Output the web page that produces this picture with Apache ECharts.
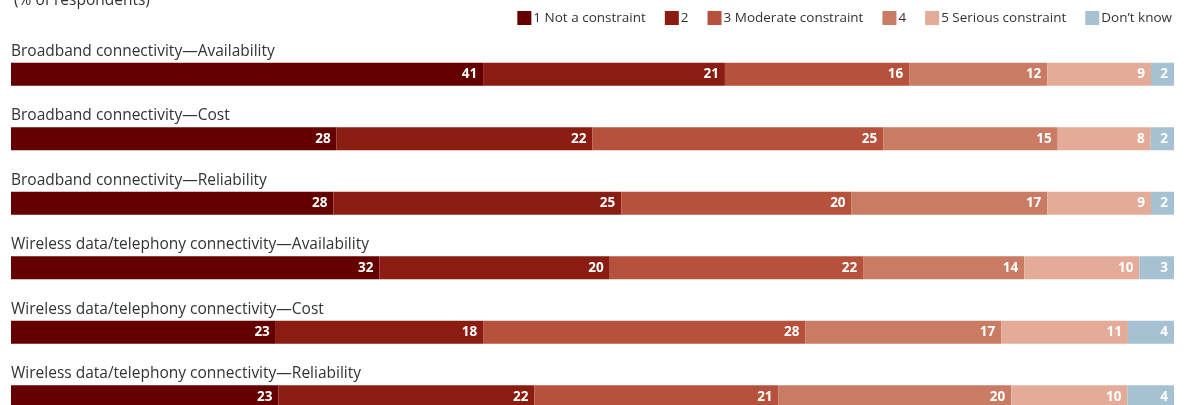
<!DOCTYPE html>
<html>
<head>
<meta charset="utf-8">
<script src="https://cdn.jsdelivr.net/npm/echarts@6/dist/echarts.min.js"></script>
<style>html,body{margin:0;padding:0;background:#fff;overflow:hidden}#c{width:1187px;height:432px}</style>
</head>
<body>
<div id="c"></div>
<script>
var categories = [
  "Broadband connectivity\u2014Availability",
  "Broadband connectivity\u2014Cost",
  "Broadband connectivity\u2014Reliability",
  "Wireless data/telephony connectivity\u2014Availability",
  "Wireless data/telephony connectivity\u2014Cost",
  "Wireless data/telephony connectivity\u2014Reliability"
];
var seriesNames = ["1 Not a constraint", "2", "3 Moderate constraint", "4", "5 Serious constraint", "Don\u2019t know"];
var notConstraint = [41, 28, 28, 32, 23, 23];
var two = [21, 22, 25, 20, 18, 22];
var moderate = [16, 25, 20, 22, 28, 21];
var four = [12, 15, 17, 14, 17, 20];
var serious = [9, 8, 9, 10, 11, 10];
var dontKnow = [2, 2, 2, 3, 4, 4];
var colors = ["#650000", "#8b1c12", "#b6523c", "#c97b64", "#e4ac98", "#a5c1d2"];

var all = [notConstraint, two, moderate, four, serious, dontKnow];
var totals = categories.map(function (c, i) {
  return all.reduce(function (s, arr) { return s + arr[i]; }, 0);
});

var chart = echarts.init(document.getElementById('c'));
var font = '"Open Sans", Lato, sans-serif';
chart.setOption({
  animation: false,
  textStyle: { fontFamily: font },
  title: {
    text: '(% of respondents)',
    left: 9, top: -12,
    textStyle: { fontSize: 15.5, fontWeight: 'normal', color: '#333', fontFamily: font }
  },
  legend: {
    right: 10, top: 6,
    itemWidth: 14, itemHeight: 14, itemGap: 19,
    icon: 'rect',
    textStyle: { fontSize: 13.5, color: '#333', padding: [0, 0, 0, -3] },
    data: seriesNames
  },
  grid: { left: 11, right: 13, top: 42, height: 387 },
  xAxis: { type: 'value', min: 0, max: 100, show: false },
  yAxis: {
    type: 'category', inverse: true, data: categories,
    axisLine: { show: false }, axisTick: { show: false },
    axisLabel: {
      inside: true, interval: 0, margin: 0, align: 'left', verticalAlign: 'bottom',
      lineHeight: 18, padding: [0, 0, 14, 0],
      fontSize: 15.5, color: '#333'
    },
    z: 10
  },
  series: all.map(function (arr, k) {
    return {
      name: seriesNames[k], type: 'bar', stack: 'total',
      barWidth: 23,
      itemStyle: { color: colors[k] },
      label: {
        show: true, position: 'insideRight', distance: 6,
        color: '#fff', fontWeight: 'bold', fontSize: 13.5,
        formatter: function (p) { return arr[p.dataIndex]; }
      },
      data: arr.map(function (v, i) { return v / totals[i] * 100; })
    };
  })
});
</script>
</body>
</html>
